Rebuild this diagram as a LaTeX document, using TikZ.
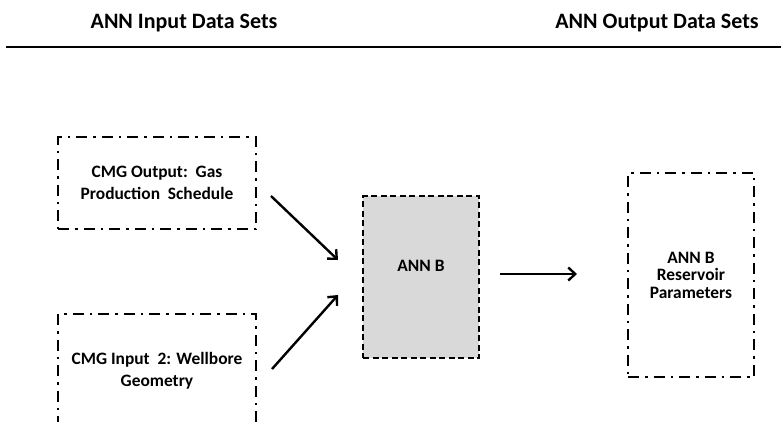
\documentclass[tikz,border=0pt]{standalone}
\usepackage{fontspec}
\setmainfont{Carlito}
\usetikzlibrary{arrows.meta}

\begin{document}
\begin{tikzpicture}[x=1pt, y=-1pt,
        datbox/.style={draw, line width=2.4pt, dash pattern=on 11pt off 6pt on 2.5pt off 6pt,
            inner sep=0pt, align=center, font=\bfseries\fontsize{17.4}{22}\selectfont},
        netbox/.style={draw, line width=2.4pt, dash pattern=on 6pt off 3.5pt, fill=gray!30,
            inner sep=0pt},
        head/.style={font=\bfseries\fontsize{22}{26}\selectfont},
        flow/.style={line width=2.4pt, -{Straight Barb[length=7pt, width=13pt, line width=2.4pt]}}]
        \useasboundingbox (0,0) rectangle (781,421);
        \clip (0,0) rectangle (781,421);

        % headings
        \node[head] (inhead) at (184,23) {ANN Input Data Sets};
        \node[head] (outhead) at (657,23) {ANN Output Data Sets};
        \draw[line width=2.4pt] (6,47) -- (781,47);

        % boxes
        \node[datbox, minimum width=198pt, minimum height=92pt] (gas) at (157,183)
            {CMG Output:\ \ Gas\\Production\ \ Schedule};
        \node[datbox, minimum width=198pt, minimum height=114pt] (well) at (157,371)
            {CMG Input\ \ 2: Wellbore\\Geometry};
        \node[netbox, minimum width=116pt, minimum height=162pt] (annb) at (421,277) {};
        \node[font=\bfseries\fontsize{17.4}{22}\selectfont] (annbtxt) at (421,266) {ANN B};
        \node[datbox, font=\bfseries\fontsize{17.4}{17.5}\selectfont, minimum width=126pt,
            minimum height=204pt] (res) at (691,275) {ANN B\\Reservoir\\Parameters};

        % arrows
        \coordinate (gasout) at (271,196);
        \coordinate (gasin) at (338,260);
        \coordinate (wellout) at (272,369);
        \coordinate (wellin) at (338,295);
        \coordinate (annout) at (500,274);
        \coordinate (resin) at (577,274);
        \draw[flow] (gasout) -- (gasin);
        \draw[flow] (wellout) -- (wellin);
        \draw[flow] (annout) -- (resin);
    \end{tikzpicture}
\end{document}
